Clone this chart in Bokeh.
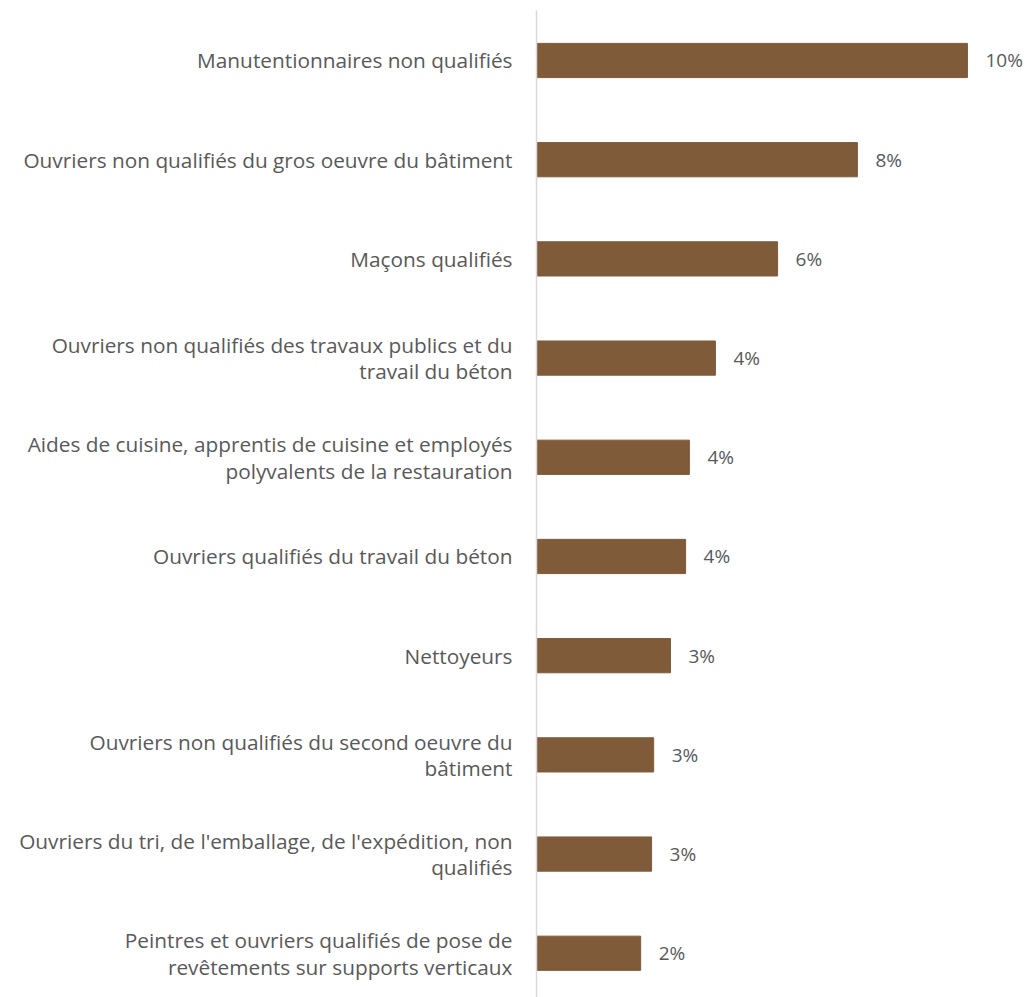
from bokeh.plotting import figure
from bokeh.models import Range1d, FixedTicker, ColumnDataSource
from bokeh.core.properties import value
from bokeh.embed import file_html
from bokeh.resources import INLINE

categories = [
    "Manutentionnaires non qualifiés",
    "Ouvriers non qualifiés du gros oeuvre du bâtiment",
    "Maçons qualifiés",
    "Ouvriers non qualifiés des travaux publics et du\ntravail du béton",
    "Aides de cuisine, apprentis de cuisine et employés\npolyvalents de la restauration",
    "Ouvriers qualifiés du travail du béton",
    "Nettoyeurs",
    "Ouvriers non qualifiés du second oeuvre du\nbâtiment",
    "Ouvriers du tri, de l'emballage, de l'expédition, non\nqualifiés",
    "Peintres et ouvriers qualifiés de pose de\nrevêtements sur supports verticaux",
]
values = [10.26, 7.64, 5.74, 4.26, 3.64, 3.55, 3.19, 2.79, 2.74, 2.48]
labels = ["10%", "8%", "6%", "4%", "4%", "4%", "3%", "3%", "3%", "2%"]

FONT = "Open Sans"
TXT = "#595959"
BAR = "#7F5B3A"

pos = list(range(len(categories)))
src = ColumnDataSource(dict(y=pos, v=values, lab=labels))

p = figure(width=1027, height=997, output_backend="svg", toolbar_location=None,
           x_range=Range1d(0, 11.69), y_range=Range1d(9.446, -0.504),
           x_axis_location=None, min_border_left=536, min_border_right=0,
           min_border_top=10, min_border_bottom=0)
p.outline_line_color = None
p.grid.visible = False
p.background_fill_color = "white"

p.hbar(y="y", right="v", left=0, height=0.345, source=src, color=BAR)
p.text(x="v", y="y", text="lab", source=src, x_offset=18, text_baseline="middle",
       text_align="left", text_font=value(FONT), text_font_size="19px", text_color=TXT)

ax = p.yaxis[0]
ax.ticker = FixedTicker(ticks=pos)
ax.major_label_overrides = {i: c for i, c in enumerate(categories)}
ax.major_tick_line_color = None
ax.minor_tick_line_color = None
ax.axis_line_color = "#D9D9D9"
ax.axis_line_width = 1.5
ax.major_label_standoff = 18
ax.major_label_text_font = FONT
ax.major_label_text_font_size = "20.8px"
ax.major_label_text_color = TXT
ax.major_label_text_line_height = 0.95

open("out.html", "w").write(file_html(p, INLINE))
